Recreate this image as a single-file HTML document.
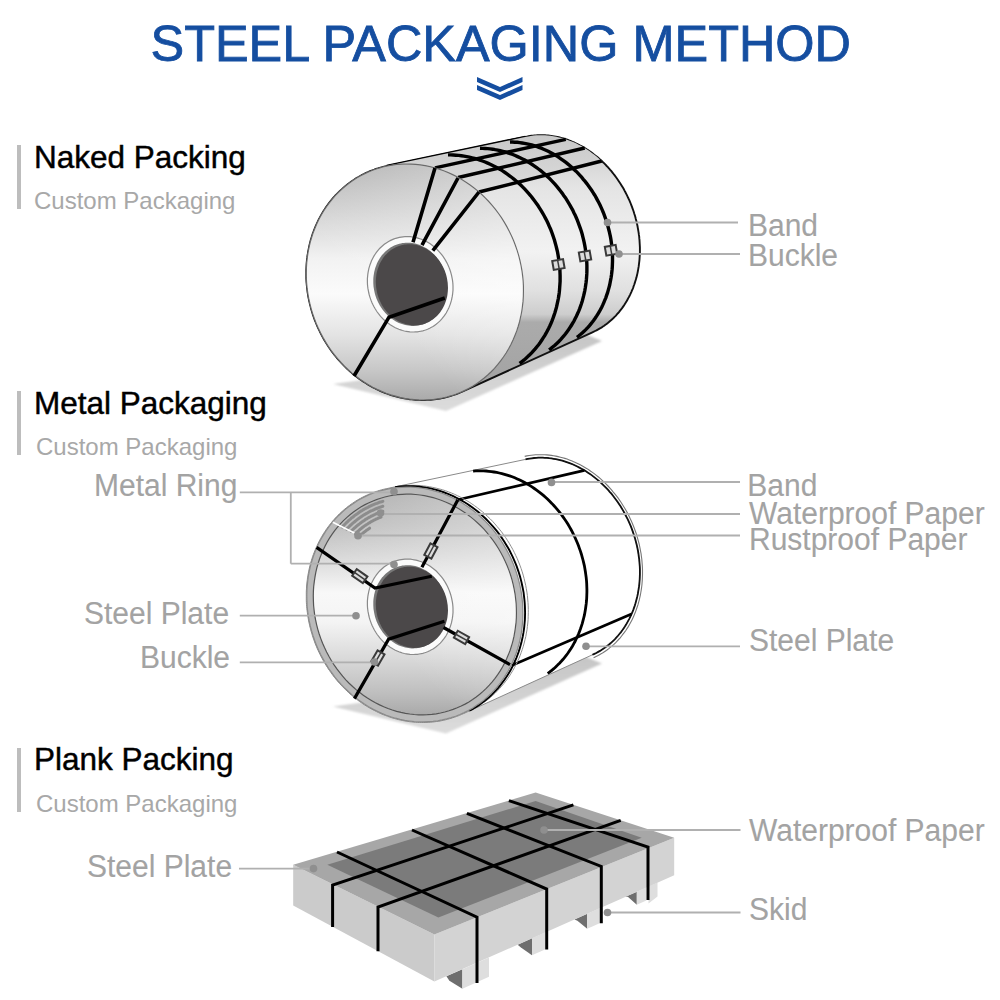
<!DOCTYPE html>
<html><head><meta charset="utf-8">
<style>
html,body{margin:0;padding:0;background:#fff;}
svg{display:block;}
text{font-family:"Liberation Sans",sans-serif;}
.lbl{fill:#a3a3a3;font-size:30px;stroke:#a3a3a3;stroke-width:0.1px;}
.hd{fill:#000;font-size:31.5px;stroke:#000;stroke-width:0.45px;}
.sub{fill:#a8a8a8;font-size:24px;}
.ln{stroke:#b0b0b0;stroke-width:1.8;fill:none;}
.dot{fill:#8f8f8f;}
</style></head>
<body>
<svg width="1000" height="1000" viewBox="0 0 1000 1000">
<defs>
<linearGradient id="face1" gradientUnits="userSpaceOnUse" x1="0" y1="164" x2="0" y2="400">
<stop offset="0" stop-color="#a9a9a9"/><stop offset="0.12" stop-color="#c2c2c2"/><stop offset="0.25" stop-color="#dadada"/><stop offset="0.4" stop-color="#f2f2f2"/><stop offset="0.55" stop-color="#fbfbfb"/><stop offset="0.72" stop-color="#e4e4e4"/><stop offset="0.87" stop-color="#c8c8c8"/><stop offset="1" stop-color="#aaaaaa"/>
</linearGradient>
<linearGradient id="body1" gradientUnits="userSpaceOnUse" x1="0" y1="135" x2="0" y2="395">
<stop offset="0" stop-color="#c8c8c8"/><stop offset="0.2" stop-color="#e4e4e4"/><stop offset="0.45" stop-color="#f2f2f2"/><stop offset="0.6" stop-color="#e0e0e0"/><stop offset="0.69" stop-color="#cdcdcd"/><stop offset="0.72" stop-color="#ababab"/><stop offset="1" stop-color="#a2a2a2"/>
</linearGradient>
<filter id="blur" x="-10%" y="-30%" width="120%" height="160%"><feGaussianBlur stdDeviation="1.3"/></filter>
<linearGradient id="hov" gradientUnits="userSpaceOnUse" x1="400" y1="330" x2="520" y2="220">
<stop offset="0" stop-color="#fff" stop-opacity="0"/><stop offset="1" stop-color="#fff" stop-opacity="0.4"/>
</linearGradient>
<linearGradient id="top1" gradientUnits="userSpaceOnUse" x1="0" y1="135" x2="0" y2="200">
<stop offset="0" stop-color="#c8c8c8"/><stop offset="1" stop-color="#e0e0e0"/>
</linearGradient>
<linearGradient id="shad" gradientUnits="userSpaceOnUse" x1="0" y1="335" x2="0" y2="411">
<stop offset="0" stop-color="#c6c6c6"/><stop offset="1" stop-color="#dcdcdc"/>
</linearGradient>
<linearGradient id="face2" gradientUnits="userSpaceOnUse" x1="0" y1="492" x2="0" y2="716">
<stop offset="0" stop-color="#a0a0a0"/><stop offset="0.15" stop-color="#bababa"/><stop offset="0.35" stop-color="#e4e4e4"/><stop offset="0.45" stop-color="#f8f8f8"/><stop offset="0.58" stop-color="#f4f4f4"/><stop offset="0.75" stop-color="#d8d8d8"/><stop offset="0.9" stop-color="#bebebe"/><stop offset="1" stop-color="#a8a8a8"/>
</linearGradient>
<linearGradient id="shad2" gradientUnits="userSpaceOnUse" x1="0" y1="657" x2="0" y2="733">
<stop offset="0" stop-color="#c6c6c6"/><stop offset="1" stop-color="#dcdcdc"/>
</linearGradient>
<linearGradient id="hov2" gradientUnits="userSpaceOnUse" x1="400" y1="652" x2="520" y2="542">
<stop offset="0" stop-color="#fff" stop-opacity="0"/><stop offset="1" stop-color="#fff" stop-opacity="0.4"/>
</linearGradient></defs>
<path d="M333 384 L446 411 L602 341 L585 334 L420 372 Z" fill="url(#shad)" filter="url(#blur)"/>
<path d="M306.3 273.8 L306.3 271.7 L306.3 269.7 L306.4 267.6 L306.5 265.6 L306.6 263.5 L306.8 261.5 L307 259.5 L307.3 257.4 L307.5 255.4 L307.9 253.4 L308.2 251.4 L308.6 249.4 L309 247.4 L309.4 245.5 L309.9 243.5 L310.4 241.6 L310.9 239.6 L311.5 237.7 L312.1 235.8 L312.7 233.9 L313.4 232 L314.1 230.2 L314.8 228.3 L315.6 226.5 L316.4 224.7 L317.2 222.9 L318 221.1 L318.9 219.3 L319.8 217.6 L320.7 215.9 L321.7 214.2 L322.7 212.5 L323.7 210.8 L324.8 209.2 L325.8 207.6 L326.9 206 L328.1 204.4 L329.2 202.9 L330.4 201.4 L331.6 199.9 L332.8 198.4 L334.1 197 L335.4 195.5 L336.7 194.2 L338 192.8 L339.4 191.4 L340.8 190.1 L342.2 188.9 L343.6 187.6 L345 186.4 L346.5 185.2 L348 184 L349.5 182.9 L351 181.8 L352.6 180.7 L354.1 179.7 L355.7 178.6 L357.3 177.7 L358.9 176.7 L360.6 175.8 L362.2 174.9 L363.9 174.1 L365.6 173.2 L367.3 172.5 L369 171.7 L370.7 171 L372.5 170.3 L374.2 169.7 L376 169 L377.8 168.5 L379.6 167.9 L381.4 167.4 L383.2 166.9 L385 166.5 L386.8 166.1 L525.5 136.9 L527 136.6 L528.5 136.3 L530 136 L531.4 135.8 L532.9 135.6 L534.4 135.5 L535.9 135.4 L537.4 135.3 L539 135.2 L540.5 135.2 L542 135.2 L543.5 135.2 L545.1 135.3 L546.6 135.4 L548.1 135.5 L549.6 135.7 L551.2 135.9 L552.7 136.1 L554.2 136.4 L555.8 136.7 L557.3 137 L558.8 137.3 L560.4 137.7 L561.9 138.1 L563.4 138.5 L564.9 139 L566.5 139.5 L568 140 L569.5 140.6 L571 141.2 L572.5 141.8 L574 142.4 L575.4 143.1 L576.9 143.8 L578.4 144.5 L579.8 145.3 L581.3 146.1 L582.7 146.9 L584.2 147.7 L585.6 148.6 L587 149.5 L588.4 150.4 L589.8 151.4 L591.2 152.3 L592.5 153.3 L593.9 154.4 L595.2 155.4 L596.6 156.5 L597.9 157.6 L599.2 158.7 L600.5 159.9 L601.8 161 L603 162.2 L604.3 163.4 L605.5 164.7 L606.7 166 L607.9 167.2 L609.1 168.5 L610.2 169.9 L611.4 171.2 L612.5 172.6 L613.6 174 L614.7 175.4 L615.7 176.8 L616.8 178.3 L617.8 179.7 L618.8 181.2 L619.8 182.7 L620.8 184.2 L621.7 185.7 L622.7 187.3 L623.6 188.8 L624.4 190.4 L625.3 192 L626.1 193.6 L626.9 195.2 L627.7 196.8 L628.5 198.5 L629.3 200.1 L630 201.8 L630.7 203.5 L631.3 205.2 L632 206.9 L632.6 208.6 L633.2 210.3 L633.8 212 L634.3 213.7 L634.9 215.5 L635.4 217.2 L635.8 218.9 L636.3 220.7 L636.7 222.5 L637.1 224.2 L637.5 226 L637.8 227.8 L638.1 229.5 L638.4 231.3 L638.7 233.1 L638.9 234.9 L639.2 236.6 L639.3 238.4 L639.5 240.2 L639.6 242 L639.7 243.7 L639.8 245.5 L639.9 247.3 L639.9 249 L639.9 250.8 L639.9 252.6 L639.8 254.3 L639.7 256.1 L639.6 257.8 L639.5 259.5 L639.3 261.3 L639.1 263 L638.9 264.7 L638.7 266.4 L638.4 268.1 L638.1 269.8 L637.8 271.5 L637.5 273.1 L637.1 274.8 L636.7 276.4 L636.3 278.1 L635.8 279.7 L635.3 281.3 L634.8 282.9 L634.3 284.5 L633.7 286 L633.2 287.6 L632.6 289.1 L631.9 290.6 L631.3 292.1 L630.6 293.6 L629.9 295.1 L629.2 296.5 L628.4 297.9 L627.7 299.3 L626.9 300.7 L626.1 302.1 L625.2 303.5 L624.4 304.8 L623.5 306.1 L622.6 307.4 L621.7 308.7 L620.7 309.9 L619.7 311.1 L618.8 312.3 L617.7 313.5 L616.7 314.7 L615.7 315.8 L614.6 316.9 L613.5 318 L612.4 319 L611.3 320.1 L610.1 321.1 L609 322 L607.8 323 L606.6 323.9 L605.4 324.8 L604.2 325.7 L602.9 326.5 L601.7 327.4 L600.4 328.2 L599.1 328.9 L597.8 329.6 L596.5 330.4 L595.1 331 L593.8 331.7 L592.4 332.3 L463.3 391.2 L461.6 391.9 L459.8 392.7 L458.1 393.4 L456.3 394 L454.6 394.7 L452.8 395.2 L451 395.8 L449.2 396.3 L447.4 396.8 L445.6 397.3 L443.8 397.7 L441.9 398.1 L440.1 398.5 L438.2 398.8 L436.4 399 L434.5 399.3 L432.6 399.5 L430.8 399.7 L428.9 399.8 L427 399.9 L425.1 400 L423.2 400 L421.3 400 L419.4 399.9 L417.5 399.9 L415.6 399.7 L413.7 399.6 L411.8 399.4 L409.9 399.2 L408 398.9 L406.1 398.6 L404.2 398.3 L402.3 397.9 L400.5 397.5 L398.6 397.1 L396.7 396.6 L394.8 396.1 L393 395.6 L391.1 395 L389.2 394.4 L387.4 393.7 L385.6 393 L383.7 392.3 L381.9 391.6 L380.1 390.8 L378.3 390 L376.5 389.1 L374.8 388.2 L373 387.3 L371.3 386.4 L369.5 385.4 L367.8 384.4 L366.1 383.3 L364.4 382.3 L362.7 381.2 L361.1 380 L359.4 378.9 L357.8 377.7 L356.2 376.4 L354.6 375.2 L353 373.9 L351.5 372.6 L349.9 371.3 L348.4 369.9 L346.9 368.5 L345.5 367.1 L344 365.6 L342.6 364.2 L341.2 362.7 L339.8 361.2 L338.4 359.6 L337.1 358.1 L335.8 356.5 L334.5 354.9 L333.2 353.2 L332 351.6 L330.8 349.9 L329.6 348.2 L328.4 346.5 L327.3 344.7 L326.2 343 L325.1 341.2 L324 339.4 L323 337.6 L322 335.7 L321 333.9 L320.1 332 L319.2 330.2 L318.3 328.3 L317.4 326.4 L316.6 324.4 L315.8 322.5 L315 320.6 L314.3 318.6 L313.6 316.6 L312.9 314.7 L312.3 312.7 L311.7 310.7 L311.1 308.7 L310.6 306.6 L310 304.6 L309.6 302.6 L309.1 300.5 L308.7 298.5 L308.3 296.5 L308 294.4 L307.6 292.4 L307.4 290.3 L307.1 288.2 L306.9 286.2 L306.7 284.1 L306.5 282 L306.4 280 L306.3 277.9 L306.3 275.8 Z" fill="url(#body1)" stroke="#111" stroke-width="1.9"/>
<path d="M386.8 166.1 L525.5 136.9" stroke="#000" stroke-width="2.6" fill="none"/>
<path d="M522.6 137.6 L525.3 136.9 L528.1 136.4 L530.8 135.9 L533.6 135.6 L536.4 135.3 L539.2 135.2 L542 135.2 L544.9 135.3 L547.7 135.5 L550.6 135.8 L553.4 136.2 L556.3 136.8 L559.1 137.4 L562 138.1 L564.8 139 L567.6 139.9 L570.4 140.9 L573.2 142.1 L576 143.3 L578.7 144.7 L581.4 146.1 L584.1 147.7 L586.7 149.3 L589.4 151 L591.9 152.9 L594.4 154.8 L596.9 156.8 L599.4 158.9 L601.7 161 L479 192 L476.2 189.7 L473.4 187.5 L470.6 185.4 L467.7 183.3 L464.7 181.4 L461.7 179.5 L458.7 177.8 L455.6 176.1 L452.5 174.6 L449.3 173.1 L446.1 171.8 L442.9 170.5 L439.7 169.4 L436.4 168.3 L433.1 167.4 L429.8 166.6 L426.5 165.9 L423.1 165.3 L419.8 164.8 L416.5 164.4 L413.1 164.2 L409.8 164 L406.4 164 L403.1 164.1 L399.8 164.3 L396.4 164.6 L393.2 165 L389.9 165.5 L386.6 166.1 Z" fill="url(#top1)"/>
<path d="M448 154.9 L450.7 154.9 L453.3 155 L456 155.2 L458.7 155.4 L461.4 155.7 L464 156.1 L466.7 156.6 L469.4 157.1 L472 157.8 L474.6 158.5 L477.3 159.2 L479.9 160.1 L482.5 161 L485.1 162 L487.7 163.1 L490.2 164.2 L492.7 165.4 L495.2 166.7 L497.7 168 L500.2 169.4 L502.6 170.9 L505 172.5 L507.3 174.1 L509.6 175.8 L511.9 177.5 L514.2 179.3 L516.4 181.2 L518.6 183.1 L520.7 185.1 L522.8 187.1 L524.8 189.2 L526.8 191.4 L528.8 193.6 L530.7 195.8 L532.5 198.1 L534.3 200.5 L536.1 202.9 L537.8 205.3 L539.4 207.8 L541 210.3 L542.5 212.9 L544 215.5 L545.4 218.1 L546.8 220.8 L548.1 223.5 L549.3 226.3 L550.5 229 L551.6 231.8 L552.6 234.6 L553.6 237.5 L554.5 240.3 L555.3 243.2 L556.1 246.1 L556.8 249 L557.5 251.9 L558 254.8 L558.5 257.8 L559 260.7 L559.3 263.7 L559.6 266.6 L559.9 269.6 L560 272.6 L560.1 275.5 L560.1 278.5 L560.1 281.4 L559.9 284.3 L559.7 287.2 L559.5 290.1 L559.2 293 L558.8 295.9 L558.3 298.8 L557.7 301.6 L557.1 304.4 L556.5 307.2 L555.7 309.9 L554.9 312.7 L554 315.4 L553.1 318 L552.1 320.7 L551 323.3 L549.9 325.8 L548.7 328.3 L547.4 330.8 L546.1 333.2 L544.7 335.6 L543.2 337.9 L541.7 340.2 L540.2 342.5 L538.6 344.7 L536.9 346.8 L535.2 348.9 L533.4 350.9 L531.6 352.9 L529.7 354.8 L527.8 356.6 L525.8 358.4 L523.8 360.2 L521.7 361.8 L519.6 363.4" fill="none" stroke="#000" stroke-width="3.4"/>
<path d="M480 148.3 L482.5 148.4 L485.1 148.5 L487.6 148.6 L490.1 148.9 L492.7 149.2 L495.2 149.7 L497.7 150.1 L500.3 150.7 L502.8 151.3 L505.3 152 L507.8 152.8 L510.3 153.6 L512.8 154.5 L515.2 155.5 L517.6 156.6 L520.1 157.7 L522.5 158.9 L524.8 160.1 L527.2 161.5 L529.5 162.9 L531.8 164.3 L534.1 165.8 L536.3 167.4 L538.5 169 L540.7 170.7 L542.9 172.5 L545 174.3 L547 176.2 L549.1 178.1 L551.1 180.1 L553 182.1 L554.9 184.2 L556.8 186.4 L558.6 188.6 L560.3 190.8 L562.1 193.1 L563.7 195.4 L565.4 197.7 L566.9 200.2 L568.4 202.6 L569.9 205.1 L571.3 207.6 L572.7 210.1 L573.9 212.7 L575.2 215.3 L576.4 218 L577.5 220.6 L578.5 223.3 L579.5 226.1 L580.5 228.8 L581.4 231.6 L582.2 234.3 L582.9 237.1 L583.6 239.9 L584.2 242.7 L584.8 245.6 L585.3 248.4 L585.7 251.2 L586.1 254.1 L586.4 256.9 L586.6 259.8 L586.8 262.6 L586.9 265.5 L586.9 268.3 L586.9 271.1 L586.8 273.9 L586.6 276.8 L586.4 279.5 L586.1 282.3 L585.7 285.1 L585.3 287.8 L584.8 290.6 L584.2 293.3 L583.6 295.9 L582.9 298.6 L582.2 301.2 L581.4 303.8 L580.5 306.4 L579.6 308.9 L578.6 311.4 L577.5 313.8 L576.4 316.2 L575.2 318.6 L574 321 L572.7 323.2 L571.3 325.5 L569.9 327.7 L568.5 329.8 L566.9 331.9 L565.4 334 L563.8 336 L562.1 337.9 L560.4 339.8 L558.6 341.7 L556.8 343.4 L554.9 345.2 L553 346.8 L551.1 348.4 L549.1 349.9" fill="none" stroke="#000" stroke-width="3.4"/>
<path d="M510 142 L512.4 142 L514.8 142.2 L517.3 142.3 L519.7 142.6 L522.1 143 L524.5 143.4 L526.9 143.8 L529.3 144.4 L531.7 145 L534.1 145.7 L536.5 146.5 L538.9 147.3 L541.2 148.2 L543.6 149.2 L545.9 150.2 L548.2 151.3 L550.5 152.5 L552.8 153.7 L555 155 L557.3 156.4 L559.5 157.8 L561.6 159.3 L563.8 160.8 L565.9 162.4 L568 164.1 L570 165.8 L572 167.5 L574 169.4 L576 171.2 L577.9 173.2 L579.7 175.1 L581.6 177.2 L583.3 179.3 L585.1 181.4 L586.8 183.6 L588.4 185.8 L590 188 L591.6 190.3 L593.1 192.6 L594.6 195 L596 197.4 L597.3 199.9 L598.6 202.3 L599.9 204.8 L601.1 207.4 L602.2 209.9 L603.3 212.5 L604.3 215.1 L605.3 217.8 L606.2 220.4 L607 223.1 L607.8 225.8 L608.5 228.5 L609.2 231.2 L609.8 233.9 L610.4 236.7 L610.9 239.4 L611.3 242.2 L611.7 244.9 L612 247.7 L612.2 250.4 L612.4 253.2 L612.5 255.9 L612.5 258.6 L612.5 261.4 L612.4 264.1 L612.3 266.8 L612.1 269.5 L611.8 272.2 L611.5 274.9 L611.1 277.5 L610.6 280.1 L610.1 282.8 L609.6 285.3 L608.9 287.9 L608.2 290.4 L607.5 292.9 L606.6 295.4 L605.8 297.8 L604.8 300.2 L603.8 302.6 L602.8 304.9 L601.7 307.2 L600.5 309.5 L599.3 311.7 L598 313.8 L596.7 315.9 L595.3 318 L593.9 320 L592.4 322 L590.9 323.9 L589.3 325.8 L587.7 327.6 L586 329.4 L584.3 331.1 L582.5 332.7 L580.7 334.3 L578.9 335.8 L577 337.3" fill="none" stroke="#000" stroke-width="3.4"/>
<path d="M435 167.9 L565.8 139.3" fill="none" stroke="#000" stroke-width="3.4"/>
<path d="M458.2 177.5 L584.7 148" fill="none" stroke="#000" stroke-width="3.4"/>
<path d="M479 192 L601.7 161" fill="none" stroke="#000" stroke-width="3.4"/>
<path d="M523.4 286.1 L523.4 291.2 L523.3 296.4 L523 301.4 L522.4 306.5 L521.7 311.5 L520.7 316.5 L519.6 321.4 L518.2 326.2 L516.7 330.9 L514.9 335.5 L513 340.1 L510.9 344.5 L508.6 348.8 L506.1 353 L503.4 357 L500.6 360.9 L497.6 364.7 L494.5 368.3 L491.2 371.7 L487.7 375 L484.2 378 L480.4 380.9 L476.6 383.7 L472.7 386.2 L468.6 388.5 L464.4 390.6 L460.2 392.5 L455.8 394.2 L451.4 395.7 L446.9 397 L442.3 398 L437.7 398.8 L433.1 399.5 L428.4 399.8 L423.7 400 L418.9 399.9 L414.2 399.6 L409.5 399.1 L404.7 398.4 L400 397.4 L395.4 396.2 L390.7 394.9 L386.1 393.2 L381.6 391.4 L377.1 389.4 L372.7 387.2 L368.4 384.7 L364.1 382.1 L360 379.3 L356 376.3 L352 373.1 L348.2 369.7 L344.5 366.2 L341 362.5 L337.6 358.7 L334.3 354.7 L331.2 350.5 L328.3 346.3 L325.5 341.9 L322.9 337.4 L320.5 332.8 L318.2 328.1 L316.2 323.4 L314.3 318.5 L312.6 313.6 L311.1 308.6 L309.8 303.5 L308.7 298.4 L307.8 293.3 L307.1 288.2 L306.6 283.1 L306.3 277.9 L306.3 272.8 L306.4 267.6 L306.7 262.6 L307.3 257.5 L308 252.5 L309 247.5 L310.1 242.6 L311.5 237.8 L313 233.1 L314.8 228.5 L316.7 223.9 L318.8 219.5 L321.1 215.2 L323.6 211 L326.3 207 L329.1 203.1 L332.1 199.3 L335.2 195.7 L338.5 192.3 L342 189 L345.5 186 L349.3 183.1 L353.1 180.3 L357 177.8 L361.1 175.5 L365.3 173.4 L369.5 171.5 L373.9 169.8 L378.3 168.3 L382.8 167 L387.4 166 L392 165.2 L396.6 164.5 L401.3 164.2 L406 164 L410.8 164.1 L415.5 164.4 L420.2 164.9 L425 165.6 L429.7 166.6 L434.3 167.8 L439 169.1 L443.6 170.8 L448.1 172.6 L452.6 174.6 L457 176.8 L461.3 179.3 L465.6 181.9 L469.7 184.7 L473.7 187.7 L477.7 190.9 L481.5 194.3 L485.2 197.8 L488.7 201.5 L492.1 205.3 L495.4 209.3 L498.5 213.5 L501.4 217.7 L504.2 222.1 L506.8 226.6 L509.2 231.2 L511.5 235.9 L513.5 240.6 L515.4 245.5 L517.1 250.4 L518.6 255.4 L519.9 260.5 L521 265.6 L521.9 270.7 L522.6 275.8 L523.1 280.9 Z" fill="url(#face1)" stroke="#6a6a6a" stroke-width="1.2"/>
<path d="M522.8 286.1 L522.9 291.2 L522.8 296.3 L522.4 301.4 L521.9 306.4 L521.2 311.4 L520.2 316.3 L519.1 321.2 L517.7 326 L516.2 330.7 L514.4 335.3 L512.5 339.8 L510.4 344.2 L508.1 348.5 L505.6 352.6 L503 356.7 L500.2 360.5 L497.2 364.3 L494.1 367.8 L490.8 371.3 L487.4 374.5 L483.8 377.6 L480.1 380.5 L476.3 383.1 L472.4 385.7 L468.3 388 L464.2 390.1 L459.9 392 L455.6 393.7 L451.2 395.1 L446.7 396.4 L442.2 397.4 L437.6 398.3 L433 398.9 L428.3 399.2 L423.6 399.4 L418.9 399.3 L414.2 399.1 L409.5 398.5 L404.8 397.8 L400.1 396.9 L395.5 395.7 L390.8 394.3 L386.3 392.7 L381.7 390.9 L377.3 388.8 L372.9 386.6 L368.6 384.2 L364.4 381.6 L360.3 378.8 L356.2 375.8 L352.3 372.6 L348.6 369.3 L344.9 365.8 L341.4 362.1 L338 358.3 L334.7 354.3 L331.7 350.2 L328.7 346 L326 341.6 L323.4 337.1 L320.9 332.6 L318.7 327.9 L316.6 323.1 L314.8 318.3 L313.1 313.4 L311.6 308.4 L310.3 303.4 L309.2 298.4 L308.3 293.3 L307.6 288.2 L307.1 283.1 L306.9 277.9 L306.8 272.8 L306.9 267.7 L307.3 262.6 L307.8 257.6 L308.5 252.6 L309.5 247.7 L310.6 242.8 L312 238 L313.5 233.3 L315.3 228.7 L317.2 224.2 L319.3 219.8 L321.6 215.5 L324.1 211.4 L326.7 207.3 L329.5 203.5 L332.5 199.7 L335.6 196.2 L338.9 192.7 L342.3 189.5 L345.9 186.4 L349.6 183.5 L353.4 180.9 L357.3 178.3 L361.4 176 L365.5 173.9 L369.8 172 L374.1 170.3 L378.5 168.9 L383 167.6 L387.5 166.6 L392.1 165.7 L396.7 165.1 L401.4 164.8 L406.1 164.6 L410.8 164.7 L415.5 164.9 L420.2 165.5 L424.9 166.2 L429.6 167.1 L434.2 168.3 L438.9 169.7 L443.4 171.3 L448 173.1 L452.4 175.2 L456.8 177.4 L461.1 179.8 L465.3 182.4 L469.4 185.2 L473.5 188.2 L477.4 191.4 L481.1 194.7 L484.8 198.2 L488.3 201.9 L491.7 205.7 L495 209.7 L498 213.8 L501 218 L503.7 222.4 L506.3 226.9 L508.8 231.4 L511 236.1 L513.1 240.9 L514.9 245.7 L516.6 250.6 L518.1 255.6 L519.4 260.6 L520.5 265.6 L521.4 270.7 L522.1 275.8 L522.6 280.9 Z" fill="url(#hov)"/>
<path d="M453 286 L453 288 L453 290.1 L452.8 292.2 L452.6 294.2 L452.3 296.2 L451.9 298.2 L451.5 300.2 L450.9 302.2 L450.3 304.1 L449.6 305.9 L448.9 307.8 L448 309.6 L447.1 311.3 L446.2 313 L445.1 314.6 L444 316.2 L442.8 317.7 L441.6 319.2 L440.3 320.6 L438.9 321.9 L437.5 323.1 L436.1 324.3 L434.5 325.4 L433 326.4 L431.4 327.3 L429.7 328.2 L428.1 329 L426.3 329.7 L424.6 330.3 L422.8 330.8 L421 331.2 L419.2 331.5 L417.4 331.8 L415.5 331.9 L413.7 332 L411.8 332 L409.9 331.9 L408.1 331.6 L406.2 331.3 L404.4 331 L402.5 330.5 L400.7 329.9 L398.9 329.3 L397.1 328.5 L395.3 327.7 L393.6 326.8 L391.9 325.8 L390.2 324.8 L388.6 323.6 L387 322.4 L385.4 321.1 L383.9 319.8 L382.5 318.3 L381.1 316.8 L379.8 315.3 L378.5 313.7 L377.2 312 L376.1 310.3 L375 308.5 L374 306.7 L373 304.8 L372.1 302.9 L371.3 301 L370.6 299.1 L369.9 297.1 L369.3 295 L368.8 293 L368.4 290.9 L368 288.9 L367.7 286.8 L367.5 284.7 L367.4 282.6 L367.4 280.6 L367.4 278.5 L367.6 276.4 L367.8 274.4 L368.1 272.4 L368.5 270.4 L368.9 268.4 L369.5 266.4 L370.1 264.5 L370.8 262.7 L371.5 260.8 L372.4 259 L373.3 257.3 L374.2 255.6 L375.3 254 L376.4 252.4 L377.6 250.9 L378.8 249.4 L380.1 248 L381.5 246.7 L382.9 245.5 L384.3 244.3 L385.9 243.2 L387.4 242.2 L389 241.3 L390.7 240.4 L392.3 239.6 L394.1 238.9 L395.8 238.3 L397.6 237.8 L399.4 237.4 L401.2 237.1 L403 236.8 L404.9 236.7 L406.7 236.6 L408.6 236.6 L410.5 236.7 L412.3 237 L414.2 237.3 L416 237.6 L417.9 238.1 L419.7 238.7 L421.5 239.3 L423.3 240.1 L425.1 240.9 L426.8 241.8 L428.5 242.8 L430.2 243.8 L431.8 245 L433.4 246.2 L435 247.5 L436.5 248.8 L437.9 250.3 L439.3 251.8 L440.6 253.3 L441.9 254.9 L443.2 256.6 L444.3 258.3 L445.4 260.1 L446.4 261.9 L447.4 263.8 L448.3 265.7 L449.1 267.6 L449.8 269.5 L450.5 271.5 L451.1 273.6 L451.6 275.6 L452 277.7 L452.4 279.7 L452.7 281.8 L452.9 283.9 Z" fill="#fbfbfb" stroke="#8a8a8a" stroke-width="1.2"/>
<path d="M447.1 285.7 L447.1 287.6 L447.1 289.4 L447 291.2 L446.8 292.9 L446.5 294.7 L446.2 296.5 L445.8 298.2 L445.4 299.9 L444.8 301.5 L444.2 303.2 L443.6 304.8 L442.9 306.3 L442.1 307.9 L441.2 309.3 L440.3 310.8 L439.4 312.1 L438.4 313.5 L437.3 314.7 L436.2 315.9 L435 317.1 L433.8 318.2 L432.5 319.2 L431.2 320.1 L429.9 321 L428.5 321.8 L427.1 322.6 L425.6 323.3 L424.1 323.9 L422.6 324.4 L421.1 324.8 L419.5 325.2 L418 325.5 L416.4 325.7 L414.8 325.8 L413.2 325.9 L411.6 325.9 L410 325.8 L408.4 325.6 L406.8 325.3 L405.2 325 L403.6 324.6 L402 324.1 L400.4 323.5 L398.9 322.9 L397.4 322.2 L395.9 321.4 L394.4 320.5 L392.9 319.6 L391.5 318.6 L390.2 317.5 L388.8 316.4 L387.5 315.2 L386.3 314 L385.1 312.7 L383.9 311.3 L382.8 309.9 L381.8 308.5 L380.8 307 L379.8 305.4 L378.9 303.8 L378.1 302.2 L377.3 300.6 L376.6 298.9 L376 297.2 L375.4 295.4 L374.9 293.7 L374.5 291.9 L374.1 290.1 L373.8 288.3 L373.5 286.5 L373.4 284.7 L373.3 282.9 L373.3 281 L373.3 279.2 L373.4 277.4 L373.6 275.7 L373.9 273.9 L374.2 272.1 L374.6 270.4 L375 268.7 L375.6 267.1 L376.2 265.4 L376.8 263.8 L377.5 262.3 L378.3 260.7 L379.2 259.3 L380.1 257.8 L381 256.5 L382 255.1 L383.1 253.9 L384.2 252.7 L385.4 251.5 L386.6 250.4 L387.9 249.4 L389.2 248.5 L390.5 247.6 L391.9 246.8 L393.3 246 L394.8 245.3 L396.3 244.7 L397.8 244.2 L399.3 243.8 L400.9 243.4 L402.4 243.1 L404 242.9 L405.6 242.8 L407.2 242.7 L408.8 242.7 L410.4 242.8 L412 243 L413.6 243.3 L415.2 243.6 L416.8 244 L418.4 244.5 L420 245.1 L421.5 245.7 L423 246.4 L424.5 247.2 L426 248.1 L427.5 249 L428.9 250 L430.2 251.1 L431.6 252.2 L432.9 253.4 L434.1 254.6 L435.3 255.9 L436.5 257.3 L437.6 258.7 L438.6 260.1 L439.6 261.6 L440.6 263.2 L441.5 264.8 L442.3 266.4 L443.1 268 L443.8 269.7 L444.4 271.4 L445 273.2 L445.5 274.9 L445.9 276.7 L446.3 278.5 L446.6 280.3 L446.9 282.1 L447 283.9 Z" fill="#777"/>
<path d="M447.9 286.2 L448 288 L447.9 289.7 L447.8 291.5 L447.6 293.2 L447.4 295 L447.1 296.7 L446.7 298.3 L446.2 300 L445.7 301.6 L445.1 303.2 L444.5 304.8 L443.8 306.3 L443 307.8 L442.2 309.2 L441.3 310.6 L440.4 312 L439.4 313.3 L438.3 314.5 L437.2 315.7 L436.1 316.8 L434.9 317.8 L433.7 318.8 L432.4 319.8 L431.1 320.6 L429.7 321.4 L428.4 322.2 L426.9 322.8 L425.5 323.4 L424 323.9 L422.5 324.4 L421 324.7 L419.5 325 L417.9 325.2 L416.4 325.3 L414.8 325.4 L413.3 325.4 L411.7 325.3 L410.1 325.1 L408.5 324.8 L407 324.5 L405.4 324.1 L403.9 323.6 L402.4 323.1 L400.9 322.4 L399.4 321.7 L397.9 321 L396.5 320.1 L395.1 319.2 L393.7 318.3 L392.3 317.2 L391 316.1 L389.8 315 L388.6 313.8 L387.4 312.5 L386.3 311.2 L385.2 309.8 L384.1 308.4 L383.2 306.9 L382.2 305.4 L381.4 303.9 L380.6 302.3 L379.8 300.7 L379.1 299 L378.5 297.4 L377.9 295.7 L377.4 293.9 L377 292.2 L376.7 290.5 L376.4 288.7 L376.1 286.9 L376 285.2 L375.9 283.4 L375.8 281.6 L375.9 279.9 L376 278.1 L376.2 276.4 L376.4 274.6 L376.7 272.9 L377.1 271.3 L377.6 269.6 L378.1 268 L378.7 266.4 L379.3 264.8 L380 263.3 L380.8 261.8 L381.6 260.4 L382.5 259 L383.4 257.6 L384.4 256.3 L385.5 255.1 L386.6 253.9 L387.7 252.8 L388.9 251.8 L390.1 250.8 L391.4 249.8 L392.7 249 L394.1 248.2 L395.4 247.4 L396.9 246.8 L398.3 246.2 L399.8 245.7 L401.3 245.2 L402.8 244.9 L404.3 244.6 L405.9 244.4 L407.4 244.3 L409 244.2 L410.5 244.2 L412.1 244.3 L413.7 244.5 L415.3 244.8 L416.8 245.1 L418.4 245.5 L419.9 246 L421.4 246.5 L422.9 247.2 L424.4 247.9 L425.9 248.6 L427.3 249.5 L428.7 250.4 L430.1 251.3 L431.5 252.4 L432.8 253.5 L434 254.6 L435.2 255.8 L436.4 257.1 L437.5 258.4 L438.6 259.8 L439.7 261.2 L440.6 262.7 L441.6 264.2 L442.4 265.7 L443.2 267.3 L444 268.9 L444.7 270.6 L445.3 272.2 L445.9 273.9 L446.4 275.7 L446.8 277.4 L447.1 279.1 L447.4 280.9 L447.7 282.7 L447.8 284.4 Z" fill="#4b4849"/>
<path d="M413 242.2 L435 168 M422 245.2 L458 178 M432.8 250.6 L479 192" stroke="#000" stroke-width="3.6" fill="none"/>
<path d="M444.8 298 L389 317.2 L354 376" stroke="#000" stroke-width="3.6" fill="none"/>
<g transform="translate(558.4 264.5) rotate(-10.0)"><rect x="-5.5" y="-4.5" width="11" height="9" fill="#dcdcdc" stroke="#3a3a3a" stroke-width="2"/><line x1="0" y1="-4.5" x2="0" y2="4.5" stroke="#3a3a3a" stroke-width="1.5"/></g>
<g transform="translate(585 256) rotate(-10.0)"><rect x="-5.5" y="-4.5" width="11" height="9" fill="#dcdcdc" stroke="#3a3a3a" stroke-width="2"/><line x1="0" y1="-4.5" x2="0" y2="4.5" stroke="#3a3a3a" stroke-width="1.5"/></g>
<g transform="translate(611 250.3) rotate(-10.0)"><rect x="-5.5" y="-4.5" width="11" height="9" fill="#dcdcdc" stroke="#3a3a3a" stroke-width="2"/><line x1="0" y1="-4.5" x2="0" y2="4.5" stroke="#3a3a3a" stroke-width="1.5"/></g>
<path d="M333 706.5 L446 733.5 L602 663.5 L585 656.5 L420 694.5 Z" fill="url(#shad2)" filter="url(#blur)"/>
<path d="M306.3 596.3 L306.3 594.2 L306.3 592.2 L306.4 590.1 L306.5 588.1 L306.6 586 L306.8 584 L307 582 L307.3 579.9 L307.5 577.9 L307.9 575.9 L308.2 573.9 L308.6 571.9 L309 569.9 L309.4 568 L309.9 566 L310.4 564.1 L310.9 562.1 L311.5 560.2 L312.1 558.3 L312.7 556.4 L313.4 554.5 L314.1 552.7 L314.8 550.8 L315.6 549 L316.4 547.2 L317.2 545.4 L318 543.6 L318.9 541.8 L319.8 540.1 L320.7 538.4 L321.7 536.7 L322.7 535 L323.7 533.3 L324.8 531.7 L325.8 530.1 L326.9 528.5 L328.1 526.9 L329.2 525.4 L330.4 523.9 L331.6 522.4 L332.8 520.9 L334.1 519.5 L335.4 518 L336.7 516.7 L338 515.3 L339.4 513.9 L340.8 512.6 L342.2 511.4 L343.6 510.1 L345 508.9 L346.5 507.7 L348 506.5 L349.5 505.4 L351 504.3 L352.6 503.2 L354.1 502.2 L355.7 501.1 L357.3 500.2 L358.9 499.2 L360.6 498.3 L362.2 497.4 L363.9 496.6 L365.6 495.7 L367.3 495 L369 494.2 L370.7 493.5 L372.5 492.8 L374.2 492.2 L376 491.5 L377.8 491 L379.6 490.4 L381.4 489.9 L383.2 489.4 L385 489 L386.8 488.6 L525.5 459.4 L527 459.1 L528.5 458.8 L530 458.5 L531.4 458.3 L532.9 458.1 L534.4 458 L535.9 457.9 L537.4 457.8 L539 457.7 L540.5 457.7 L542 457.7 L543.5 457.7 L545.1 457.8 L546.6 457.9 L548.1 458 L549.6 458.2 L551.2 458.4 L552.7 458.6 L554.2 458.9 L555.8 459.2 L557.3 459.5 L558.8 459.8 L560.4 460.2 L561.9 460.6 L563.4 461 L564.9 461.5 L566.5 462 L568 462.5 L569.5 463.1 L571 463.7 L572.5 464.3 L574 464.9 L575.4 465.6 L576.9 466.3 L578.4 467 L579.8 467.8 L581.3 468.6 L582.7 469.4 L584.2 470.2 L585.6 471.1 L587 472 L588.4 472.9 L589.8 473.9 L591.2 474.8 L592.5 475.8 L593.9 476.9 L595.2 477.9 L596.6 479 L597.9 480.1 L599.2 481.2 L600.5 482.4 L601.8 483.5 L603 484.7 L604.3 485.9 L605.5 487.2 L606.7 488.5 L607.9 489.7 L609.1 491 L610.2 492.4 L611.4 493.7 L612.5 495.1 L613.6 496.5 L614.7 497.9 L615.7 499.3 L616.8 500.8 L617.8 502.2 L618.8 503.7 L619.8 505.2 L620.8 506.7 L621.7 508.2 L622.7 509.8 L623.6 511.3 L624.4 512.9 L625.3 514.5 L626.1 516.1 L626.9 517.7 L627.7 519.3 L628.5 521 L629.3 522.6 L630 524.3 L630.7 526 L631.3 527.7 L632 529.4 L632.6 531.1 L633.2 532.8 L633.8 534.5 L634.3 536.2 L634.9 538 L635.4 539.7 L635.8 541.4 L636.3 543.2 L636.7 545 L637.1 546.7 L637.5 548.5 L637.8 550.3 L638.1 552 L638.4 553.8 L638.7 555.6 L638.9 557.4 L639.2 559.1 L639.3 560.9 L639.5 562.7 L639.6 564.5 L639.7 566.2 L639.8 568 L639.9 569.8 L639.9 571.5 L639.9 573.3 L639.9 575.1 L639.8 576.8 L639.7 578.6 L639.6 580.3 L639.5 582 L639.3 583.8 L639.1 585.5 L638.9 587.2 L638.7 588.9 L638.4 590.6 L638.1 592.3 L637.8 594 L637.5 595.6 L637.1 597.3 L636.7 598.9 L636.3 600.6 L635.8 602.2 L635.3 603.8 L634.8 605.4 L634.3 607 L633.7 608.5 L633.2 610.1 L632.6 611.6 L631.9 613.1 L631.3 614.6 L630.6 616.1 L629.9 617.6 L629.2 619 L628.4 620.4 L627.7 621.8 L626.9 623.2 L626.1 624.6 L625.2 626 L624.4 627.3 L623.5 628.6 L622.6 629.9 L621.7 631.2 L620.7 632.4 L619.7 633.6 L618.8 634.8 L617.7 636 L616.7 637.2 L615.7 638.3 L614.6 639.4 L613.5 640.5 L612.4 641.5 L611.3 642.6 L610.1 643.6 L609 644.5 L607.8 645.5 L606.6 646.4 L605.4 647.3 L604.2 648.2 L602.9 649 L601.7 649.9 L600.4 650.7 L599.1 651.4 L597.8 652.1 L596.5 652.9 L595.1 653.5 L593.8 654.2 L592.4 654.8 L463.3 713.7 L461.6 714.4 L459.8 715.2 L458.1 715.9 L456.3 716.5 L454.6 717.2 L452.8 717.7 L451 718.3 L449.2 718.8 L447.4 719.3 L445.6 719.8 L443.8 720.2 L441.9 720.6 L440.1 721 L438.2 721.3 L436.4 721.5 L434.5 721.8 L432.6 722 L430.8 722.2 L428.9 722.3 L427 722.4 L425.1 722.5 L423.2 722.5 L421.3 722.5 L419.4 722.4 L417.5 722.4 L415.6 722.2 L413.7 722.1 L411.8 721.9 L409.9 721.7 L408 721.4 L406.1 721.1 L404.2 720.8 L402.3 720.4 L400.5 720 L398.6 719.6 L396.7 719.1 L394.8 718.6 L393 718.1 L391.1 717.5 L389.2 716.9 L387.4 716.2 L385.6 715.5 L383.7 714.8 L381.9 714.1 L380.1 713.3 L378.3 712.5 L376.5 711.6 L374.8 710.7 L373 709.8 L371.3 708.9 L369.5 707.9 L367.8 706.9 L366.1 705.8 L364.4 704.8 L362.7 703.7 L361.1 702.5 L359.4 701.4 L357.8 700.2 L356.2 698.9 L354.6 697.7 L353 696.4 L351.5 695.1 L349.9 693.8 L348.4 692.4 L346.9 691 L345.5 689.6 L344 688.1 L342.6 686.7 L341.2 685.2 L339.8 683.7 L338.4 682.1 L337.1 680.6 L335.8 679 L334.5 677.4 L333.2 675.7 L332 674.1 L330.8 672.4 L329.6 670.7 L328.4 669 L327.3 667.2 L326.2 665.5 L325.1 663.7 L324 661.9 L323 660.1 L322 658.2 L321 656.4 L320.1 654.5 L319.2 652.7 L318.3 650.8 L317.4 648.9 L316.6 646.9 L315.8 645 L315 643.1 L314.3 641.1 L313.6 639.1 L312.9 637.2 L312.3 635.2 L311.7 633.2 L311.1 631.2 L310.6 629.1 L310 627.1 L309.6 625.1 L309.1 623 L308.7 621 L308.3 619 L308 616.9 L307.6 614.9 L307.4 612.8 L307.1 610.7 L306.9 608.7 L306.7 606.6 L306.5 604.5 L306.4 602.5 L306.3 600.4 L306.3 598.3 Z" fill="#fff" stroke="#8a8a8a" stroke-width="1"/>
<path d="M524.7 456.4 L526.9 455.9 L529.1 455.5 L531.3 455.2 L533.5 455 L535.7 454.8 L537.9 454.7 L540.1 454.7 L542.4 454.7 L544.6 454.8 L546.9 454.9 L549.1 455.1 L551.4 455.4 L553.6 455.7 L555.9 456.1 L558.1 456.6 L560.4 457.2 L562.6 457.8 L564.9 458.4 L567.1 459.1 L569.3 459.9 L571.5 460.8 L573.7 461.7 L575.9 462.7 L578.1 463.7 L580.2 464.8 L582.4 466 L584.5 467.2 L586.6 468.4 L588.7 469.8 L590.7 471.2 L592.8 472.6 L594.8 474.1 L596.7 475.6 L598.7 477.2 L600.6 478.9 L602.5 480.6 L604.4 482.3 L606.2 484.1 L608 486 L609.7 487.8 L611.5 489.8 L613.1 491.8 L614.8 493.8 L616.4 495.8 L618 497.9 L619.5 500.1 L621 502.2 L622.4 504.5 L623.8 506.7 L625.2 509 L626.5 511.3 L627.7 513.6 L629 516 L630.1 518.4 L631.2 520.8 L632.3 523.3 L633.3 525.7 L634.3 528.2 L635.2 530.7 L636.1 533.2 L636.9 535.8 L637.6 538.3 L638.3 540.9 L639 543.5 L639.6 546.1 L640.1 548.7 L640.6 551.3 L641.1 553.9 L641.4 556.5 L641.8 559.1 L642 561.7 L642.2 564.4 L642.4 567 L642.5 569.6 L642.5 572.2 L642.5 574.8 L642.4 577.3 L642.3 579.9 L642.1 582.5 L641.9 585 L641.6 587.5 L641.2 590.1 L640.8 592.5 L640.4 595 L639.8 597.5 L639.3 599.9 L638.6 602.3 L638 604.7 L637.2 607 L636.4 609.3 L635.6 611.6 L634.7 613.8 L633.8 616.1 L632.8 618.2 L631.7 620.4 L630.6 622.5 L629.5 624.5 L628.3 626.6 L627 628.6 L625.8 630.5 L624.4 632.4 L623 634.2 L621.6 636 L620.2 637.8 L618.6 639.5 L617.1 641.1 L615.5 642.8 L613.9 644.3 L612.2 645.8 L610.5 647.2 L608.8 648.6 L607 650 L605.2 651.2 L603.3 652.5 L601.5 653.6 L599.5 654.7 L597.6 655.8 L595.6 656.7 L593.6 657.7" fill="none" stroke="#777" stroke-width="1.1"/>
<path d="M525.5 459.4 L527.6 458.9 L529.7 458.6 L531.9 458.3 L534 458 L536.2 457.9 L538.3 457.7 L540.5 457.7 L542.7 457.7 L544.8 457.8 L547 457.9 L549.2 458.2 L551.4 458.4 L553.6 458.8 L555.8 459.2 L558 459.6 L560.2 460.1 L562.3 460.7 L564.5 461.4 L566.7 462.1 L568.8 462.8 L571 463.7 L573.1 464.5 L575.2 465.5 L577.3 466.5 L579.4 467.6 L581.5 468.7 L583.6 469.9 L585.6 471.1 L587.6 472.4 L589.6 473.7 L591.6 475.1 L593.5 476.6 L595.4 478.1 L597.3 479.6 L599.2 481.2 L601 482.9 L602.8 484.6 L604.6 486.3 L606.4 488.1 L608.1 489.9 L609.7 491.8 L611.4 493.7 L613 495.7 L614.5 497.7 L616 499.7 L617.5 501.8 L619 503.9 L620.4 506.1 L621.7 508.2 L623 510.4 L624.3 512.7 L625.5 515 L626.7 517.3 L627.9 519.6 L628.9 521.9 L630 524.3 L631 526.7 L631.9 529.1 L632.8 531.6 L633.6 534 L634.4 536.5 L635.2 539 L635.8 541.4 L636.5 544 L637.1 546.5 L637.6 549 L638.1 551.5 L638.5 554.1 L638.8 556.6 L639.2 559.1 L639.4 561.7 L639.6 564.2 L639.8 566.7 L639.9 569.3 L639.9 571.8 L639.9 574.3 L639.8 576.8 L639.7 579.3 L639.5 581.8 L639.3 584.3 L639 586.7 L638.6 589.2 L638.2 591.6 L637.8 594 L637.3 596.4 L636.7 598.7 L636.1 601 L635.5 603.3 L634.8 605.6 L634 607.9 L633.2 610.1 L632.3 612.3 L631.4 614.4 L630.4 616.5 L629.4 618.6 L628.3 620.6 L627.2 622.6 L626.1 624.6 L624.9 626.5 L623.6 628.4 L622.3 630.3 L621 632.1 L619.6 633.8 L618.2 635.5 L616.7 637.2 L615.2 638.8 L613.7 640.3 L612.1 641.8 L610.5 643.3 L608.8 644.7 L607.1 646 L605.4 647.3 L603.6 648.6 L601.8 649.7 L600 650.9 L598.2 651.9 L596.3 653 L594.4 653.9 L592.4 654.8" fill="none" stroke="#111" stroke-width="1.8"/>
<path d="M473.1 471.1 L475.7 470.9 L478.3 470.8 L480.9 470.8 L483.5 470.9 L486.2 471 L488.8 471.3 L491.4 471.6 L494 472 L496.7 472.4 L499.3 473 L501.9 473.6 L504.5 474.3 L507.1 475.1 L509.6 475.9 L512.2 476.8 L514.8 477.8 L517.3 478.9 L519.8 480.1 L522.3 481.3 L524.7 482.6 L527.2 484 L529.6 485.4 L532 486.9 L534.3 488.5 L536.6 490.1 L538.9 491.8 L541.2 493.6 L543.4 495.4 L545.5 497.3 L547.7 499.3 L549.7 501.3 L551.8 503.4 L553.8 505.5 L555.7 507.7 L557.6 509.9 L559.5 512.2 L561.3 514.5 L563 516.9 L564.7 519.3 L566.4 521.8 L568 524.3 L569.5 526.9 L571 529.5 L572.4 532.1 L573.7 534.8 L575 537.5 L576.2 540.2 L577.4 543 L578.5 545.7 L579.5 548.6 L580.5 551.4 L581.4 554.2 L582.2 557.1 L583 560 L583.7 562.9 L584.4 565.8 L584.9 568.7 L585.4 571.7 L585.8 574.6 L586.2 577.6 L586.5 580.5 L586.7 583.5 L586.8 586.4 L586.9 589.3 L586.9 592.3 L586.8 595.2 L586.7 598.1 L586.5 601 L586.2 603.9 L585.8 606.7 L585.4 609.6 L584.9 612.4 L584.4 615.2 L583.7 618 L583 620.7 L582.3 623.4 L581.4 626.1 L580.5 628.8 L579.5 631.4 L578.5 634 L577.4 636.5 L576.2 639 L575 641.5 L573.7 643.9 L572.4 646.2 L571 648.5 L569.5 650.8 L568 653 L566.4 655.2 L564.7 657.3 L563.1 659.3 L561.3 661.3 L559.5 663.2 L557.6 665.1 L555.7 666.9 L553.8 668.7 L551.8 670.3 L549.8 671.9 L547.7 673.5" fill="none" stroke="#000" stroke-width="2.8"/>
<path d="M457.9 499.8 L584.4 470.4" fill="none" stroke="#000" stroke-width="2.7"/>
<path d="M511.6 665.6 L631.5 614" fill="none" stroke="#000" stroke-width="2.7"/>
<path d="M395.2 486.9 L398.3 486.4 L401.4 485.9 L404.5 485.6 L407.6 485.4 L410.8 485.3 L413.9 485.3 L417.1 485.4 L420.2 485.6 L423.4 485.9 L426.6 486.3 L429.7 486.8 L432.9 487.4 L436 488.1 L439.1 488.9 L442.3 489.7 L445.3 490.7 L448.4 491.8 L451.5 493 L454.5 494.3 L457.5 495.7 L460.4 497.1 L463.4 498.7 L466.2 500.3 L469.1 502 L471.9 503.9 L474.7 505.8 L477.4 507.8 L480 509.8 L482.7 512 L485.2 514.2 L487.7 516.5 L490.2 518.9 L492.6 521.3 L494.9 523.9 L497.1 526.5 L499.3 529.1 L501.5 531.8 L503.5 534.6 L505.5 537.4 L507.4 540.3 L509.3 543.3 L511 546.3 L512.7 549.3 L514.3 552.4 L515.8 555.6 L517.3 558.7 L518.6 562 L519.9 565.2 L521.1 568.5 L522.2 571.8 L523.2 575.1 L524.1 578.5 L524.9 581.9 L525.7 585.3 L526.3 588.7 L526.9 592.1 L527.4 595.6 L527.7 599 L528 602.5 L528.2 605.9 L528.3 609.4 L528.3 612.8 L528.2 616.2 L528.1 619.6 L527.8 623 L527.4 626.4 L527 629.8 L526.4 633.1 L525.8 636.5 L525 639.7 L524.2 643 L523.3 646.2 L522.3 649.4 L521.2 652.5 L520.1 655.6 L518.8 658.7 L517.4 661.7 L516 664.6 L514.5 667.5 L512.9 670.4 L511.2 673.2 L509.5 675.9 L507.7 678.5 L505.8 681.1 L503.8 683.7 L501.7 686.1 L499.6 688.5 L497.4 690.8 L495.2 693.1 L492.9 695.2 L490.5 697.3 L488.1 699.3 L485.6 701.2 L483 703 L480.4 704.8 L477.7 706.4 L475 708 L472.3 709.4 L469.5 710.8" fill="none" stroke="#8f8f8f" stroke-width="1.0"/>
<path d="M395.1 487.1 L398.2 486.7 L401.2 486.4 L404.3 486.2 L407.4 486.1 L410.5 486.1 L413.6 486.2 L416.7 486.4 L419.8 486.7 L422.9 487.1 L426 487.6 L429.1 488.1 L432.2 488.8 L435.2 489.6 L438.3 490.5 L441.3 491.4 L444.3 492.5 L447.3 493.6 L450.3 494.8 L453.2 496.1 L456.1 497.6 L459 499 L461.8 500.6 L464.6 502.3 L467.4 504 L470.1 505.9 L472.8 507.8 L475.4 509.8 L478 511.8 L480.5 514 L483 516.2 L485.5 518.5 L487.8 520.9 L490.1 523.3 L492.4 525.8 L494.6 528.3 L496.7 530.9 L498.8 533.6 L500.8 536.4 L502.7 539.2 L504.5 542 L506.3 544.9 L508 547.8 L509.7 550.8 L511.2 553.9 L512.7 556.9 L514.1 560.1 L515.4 563.2 L516.7 566.4 L517.8 569.6 L518.9 572.8 L519.9 576.1 L520.8 579.4 L521.6 582.7 L522.3 586 L523 589.4 L523.6 592.7 L524 596.1 L524.4 599.5 L524.7 602.8 L524.9 606.2 L525 609.6 L525.1 612.9 L525 616.3 L524.9 619.7 L524.6 623 L524.3 626.3 L523.9 629.6 L523.4 632.9 L522.8 636.2 L522.1 639.4 L521.4 642.6 L520.5 645.8 L519.6 648.9 L518.6 652 L517.5 655 L516.3 658.1 L515 661 L513.7 664 L512.3 666.8 L510.8 669.7 L509.2 672.4 L507.5 675.2 L505.8 677.8 L504 680.4 L502.1 682.9 L500.2 685.4 L498.2 687.8 L496.1 690.1 L493.9 692.4 L491.7 694.6 L489.5 696.7 L487.1 698.7 L484.8 700.7 L482.3 702.6 L479.8 704.4 L477.3 706.1 L474.7 707.7 L472 709.3 L469.3 710.7" fill="none" stroke="#000" stroke-width="1.9"/>
<path d="M522.8 608.6 L522.9 613.7 L522.8 618.8 L522.4 623.9 L521.9 628.9 L521.2 633.9 L520.2 638.8 L519.1 643.7 L517.7 648.5 L516.2 653.2 L514.4 657.8 L512.5 662.3 L510.4 666.7 L508.1 671 L505.6 675.1 L503 679.2 L500.2 683 L497.2 686.8 L494.1 690.3 L490.8 693.8 L487.4 697 L483.8 700.1 L480.1 703 L476.3 705.6 L472.4 708.2 L468.3 710.5 L464.2 712.6 L459.9 714.5 L455.6 716.2 L451.2 717.6 L446.7 718.9 L442.2 719.9 L437.6 720.8 L433 721.4 L428.3 721.7 L423.6 721.9 L418.9 721.8 L414.2 721.6 L409.5 721 L404.8 720.3 L400.1 719.4 L395.5 718.2 L390.8 716.8 L386.3 715.2 L381.7 713.4 L377.3 711.3 L372.9 709.1 L368.6 706.7 L364.4 704.1 L360.3 701.3 L356.2 698.3 L352.3 695.1 L348.6 691.8 L344.9 688.3 L341.4 684.6 L338 680.8 L334.7 676.8 L331.7 672.7 L328.7 668.5 L326 664.1 L323.4 659.6 L320.9 655.1 L318.7 650.4 L316.6 645.6 L314.8 640.8 L313.1 635.9 L311.6 630.9 L310.3 625.9 L309.2 620.9 L308.3 615.8 L307.6 610.7 L307.1 605.6 L306.9 600.4 L306.8 595.3 L306.9 590.2 L307.3 585.1 L307.8 580.1 L308.5 575.1 L309.5 570.2 L310.6 565.3 L312 560.5 L313.5 555.8 L315.3 551.2 L317.2 546.7 L319.3 542.3 L321.6 538 L324.1 533.9 L326.7 529.8 L329.5 526 L332.5 522.2 L335.6 518.7 L338.9 515.2 L342.3 512 L345.9 508.9 L349.6 506 L353.4 503.4 L357.3 500.8 L361.4 498.5 L365.5 496.4 L369.8 494.5 L374.1 492.8 L378.5 491.4 L383 490.1 L387.5 489.1 L392.1 488.2 L396.7 487.6 L401.4 487.3 L406.1 487.1 L410.8 487.2 L415.5 487.4 L420.2 488 L424.9 488.7 L429.6 489.6 L434.2 490.8 L438.9 492.2 L443.4 493.8 L448 495.6 L452.4 497.7 L456.8 499.9 L461.1 502.3 L465.3 504.9 L469.4 507.7 L473.5 510.7 L477.4 513.9 L481.1 517.2 L484.8 520.7 L488.3 524.4 L491.7 528.2 L495 532.2 L498 536.3 L501 540.5 L503.7 544.9 L506.3 549.4 L508.8 553.9 L511 558.6 L513.1 563.4 L514.9 568.2 L516.6 573.1 L518.1 578.1 L519.4 583.1 L520.5 588.1 L521.4 593.2 L522.1 598.3 L522.6 603.4 Z" fill="#bababa" stroke="#8a8a8a" stroke-width="1.2"/>
<path d="M516.3 608.3 L516.4 613.1 L516.3 617.9 L516 622.7 L515.4 627.4 L514.7 632.1 L513.9 636.7 L512.8 641.3 L511.5 645.8 L510.1 650.2 L508.4 654.6 L506.6 658.8 L504.6 662.9 L502.5 667 L500.2 670.9 L497.7 674.7 L495 678.3 L492.2 681.8 L489.3 685.2 L486.2 688.4 L483 691.4 L479.7 694.3 L476.2 697 L472.6 699.6 L468.9 701.9 L465.1 704.1 L461.2 706 L457.2 707.8 L453.1 709.4 L449 710.8 L444.8 712 L440.5 713 L436.2 713.8 L431.9 714.3 L427.5 714.7 L423.1 714.8 L418.7 714.8 L414.2 714.5 L409.8 714 L405.4 713.3 L401 712.4 L396.6 711.3 L392.3 710 L388 708.5 L383.7 706.8 L379.6 704.9 L375.4 702.8 L371.4 700.5 L367.4 698.1 L363.6 695.4 L359.8 692.6 L356.1 689.6 L352.6 686.5 L349.1 683.2 L345.8 679.8 L342.6 676.2 L339.6 672.4 L336.7 668.6 L333.9 664.6 L331.3 660.5 L328.9 656.3 L326.6 652 L324.5 647.6 L322.6 643.2 L320.8 638.6 L319.2 634 L317.8 629.3 L316.6 624.6 L315.6 619.9 L314.7 615.1 L314.1 610.3 L313.6 605.5 L313.4 600.7 L313.3 595.9 L313.4 591.1 L313.7 586.3 L314.3 581.6 L315 576.9 L315.8 572.3 L316.9 567.7 L318.2 563.2 L319.6 558.8 L321.3 554.4 L323.1 550.2 L325.1 546.1 L327.2 542 L329.5 538.1 L332 534.3 L334.7 530.7 L337.5 527.2 L340.4 523.8 L343.5 520.6 L346.7 517.6 L350 514.7 L353.5 512 L357.1 509.4 L360.8 507.1 L364.6 504.9 L368.5 503 L372.5 501.2 L376.6 499.6 L380.7 498.2 L384.9 497 L389.2 496 L393.5 495.2 L397.8 494.7 L402.2 494.3 L406.6 494.2 L411 494.2 L415.5 494.5 L419.9 495 L424.3 495.7 L428.7 496.6 L433.1 497.7 L437.4 499 L441.7 500.5 L446 502.2 L450.1 504.1 L454.3 506.2 L458.3 508.5 L462.3 510.9 L466.1 513.6 L469.9 516.4 L473.6 519.4 L477.1 522.5 L480.6 525.8 L483.9 529.2 L487.1 532.8 L490.1 536.6 L493 540.4 L495.8 544.4 L498.4 548.5 L500.8 552.7 L503.1 557 L505.2 561.4 L507.1 565.8 L508.9 570.4 L510.5 575 L511.9 579.7 L513.1 584.4 L514.1 589.1 L515 593.9 L515.6 598.7 L516.1 603.5 Z" fill="url(#face2)" stroke="#555" stroke-width="1.2"/>
<path d="M515.8 608.3 L515.8 613.1 L515.7 617.8 L515.4 622.6 L514.9 627.3 L514.2 632 L513.3 636.6 L512.2 641.1 L511 645.6 L509.5 650 L507.9 654.3 L506.1 658.5 L504.2 662.6 L502 666.6 L499.7 670.5 L497.2 674.3 L494.6 677.9 L491.8 681.4 L488.9 684.7 L485.8 687.9 L482.6 691 L479.3 693.8 L475.9 696.5 L472.3 699 L468.6 701.4 L464.8 703.5 L461 705.5 L457 707.3 L452.9 708.9 L448.8 710.2 L444.6 711.4 L440.4 712.4 L436.1 713.2 L431.8 713.7 L427.4 714.1 L423.1 714.2 L418.7 714.2 L414.2 713.9 L409.8 713.4 L405.4 712.7 L401.1 711.8 L396.7 710.8 L392.4 709.5 L388.1 708 L383.9 706.3 L379.7 704.4 L375.6 702.3 L371.6 700 L367.7 697.6 L363.8 695 L360.1 692.2 L356.4 689.2 L352.9 686.1 L349.5 682.8 L346.2 679.4 L343 675.8 L340 672.1 L337.1 668.2 L334.4 664.3 L331.8 660.2 L329.3 656 L327.1 651.8 L325 647.4 L323.1 643 L321.3 638.4 L319.7 633.9 L318.3 629.2 L317.1 624.5 L316.1 619.8 L315.3 615 L314.6 610.3 L314.2 605.5 L313.9 600.7 L313.9 595.9 L314 591.2 L314.3 586.4 L314.8 581.7 L315.5 577 L316.4 572.4 L317.5 567.9 L318.7 563.4 L320.2 559 L321.8 554.7 L323.6 550.5 L325.5 546.4 L327.7 542.4 L330 538.5 L332.5 534.7 L335.1 531.1 L337.9 527.6 L340.8 524.3 L343.9 521.1 L347.1 518 L350.4 515.2 L353.8 512.5 L357.4 510 L361.1 507.6 L364.9 505.5 L368.7 503.5 L372.7 501.7 L376.8 500.1 L380.9 498.8 L385.1 497.6 L389.3 496.6 L393.6 495.8 L397.9 495.3 L402.3 494.9 L406.6 494.8 L411 494.8 L415.5 495.1 L419.9 495.6 L424.3 496.3 L428.6 497.2 L433 498.2 L437.3 499.5 L441.6 501 L445.8 502.7 L450 504.6 L454.1 506.7 L458.1 509 L462 511.4 L465.9 514 L469.6 516.8 L473.3 519.8 L476.8 522.9 L480.2 526.2 L483.5 529.6 L486.7 533.2 L489.7 536.9 L492.6 540.8 L495.3 544.7 L497.9 548.8 L500.4 553 L502.6 557.2 L504.7 561.6 L506.6 566 L508.4 570.6 L510 575.1 L511.4 579.8 L512.6 584.5 L513.6 589.2 L514.4 594 L515.1 598.7 L515.5 603.5 Z" fill="url(#hov2)"/>
<path d="M342.3 527 L343.1 526 L344 525.1 L344.9 524.2 L345.8 523.3 L346.7 522.4 L347.6 521.6 L348.5 520.7 L349.4 519.9 L350.4 519.1 L351.3 518.2 L352.3 517.4 L353.3 516.7 L354.2 515.9 L355.2 515.1 L356.2 514.4 L357.3 513.7 L358.3 513 L359.3 512.3 L360.3 511.6 L361.4 510.9 L362.5 510.3 L363.5 509.6 L364.6 509 L365.7 508.4 L366.8 507.8 L367.9 507.3 L369 506.7 L370.1 506.2 L371.2 505.6 L372.3 505.1 L373.5 504.6 L374.6 504.2 L375.8 503.7 L376.9 503.3 L378.1 502.8 L379.2 502.4 L380.4 502 L381.6 501.7 L382.8 501.3" fill="none" stroke="#8c8c8c" stroke-width="3" stroke-linecap="round"/>
<path d="M346.7 529.1 L347.5 528.3 L348.3 527.5 L349.1 526.7 L349.9 525.9 L350.7 525.1 L351.5 524.4 L352.3 523.6 L353.2 522.9 L354 522.2 L354.9 521.5 L355.7 520.8 L356.6 520.1 L357.5 519.4 L358.4 518.7 L359.3 518.1 L360.2 517.4 L361.1 516.8 L362 516.2 L362.9 515.6 L363.8 515 L364.8 514.4 L365.7 513.9 L366.7 513.3 L367.7 512.8 L368.6 512.2 L369.6 511.7 L370.6 511.2 L371.6 510.7 L372.6 510.3 L373.6 509.8 L374.6 509.4 L375.6 508.9 L376.6 508.5 L377.6 508.1 L378.6 507.7 L379.7 507.3 L380.7 507 L381.8 506.6 L382.8 506.3" fill="none" stroke="#8c8c8c" stroke-width="3" stroke-linecap="round"/>
<path d="M351 531.3 L351.7 530.6 L352.4 530 L353.1 529.3 L353.8 528.6 L354.6 527.9 L355.3 527.3 L356 526.6 L356.8 526 L357.5 525.4 L358.3 524.8 L359.1 524.1 L359.8 523.6 L360.6 523 L361.4 522.4 L362.2 521.8 L363 521.3 L363.8 520.7 L364.6 520.2 L365.4 519.6 L366.2 519.1 L367.1 518.6 L367.9 518.1 L368.7 517.6 L369.6 517.2 L370.4 516.7 L371.3 516.2 L372.1 515.8 L373 515.4 L373.9 514.9 L374.8 514.5 L375.6 514.1 L376.5 513.7 L377.4 513.3 L378.3 513 L379.2 512.6 L380.1 512.3 L381 511.9 L381.9 511.6 L382.8 511.3" fill="none" stroke="#8c8c8c" stroke-width="3" stroke-linecap="round"/>
<path d="M355.2 533.8 L355.7 533.3 L356.3 532.7 L356.9 532.2 L357.5 531.6 L358.1 531.1 L358.7 530.6 L359.3 530 L359.9 529.5 L360.5 529 L361.2 528.5 L361.8 528 L362.4 527.5 L363.1 527 L363.7 526.6 L364.3 526.1 L365 525.6 L365.6 525.2 L366.3 524.7 L367 524.3 L367.6 523.9 L368.3 523.4 L369 523 L369.7 522.6 L370.3 522.2 L371 521.8 L371.7 521.4 L372.4 521 L373.1 520.7 L373.8 520.3 L374.5 519.9 L375.2 519.6 L376 519.2 L376.7 518.9 L377.4 518.6 L378.1 518.2 L378.8 517.9 L379.6 517.6 L380.3 517.3 L381 517" fill="none" stroke="#8c8c8c" stroke-width="3" stroke-linecap="round"/>
<path d="M358.5 537.2 L358.7 536.9 L359 536.7 L359.3 536.4 L359.5 536.2 L359.8 535.9 L360.1 535.7 L360.4 535.4 L360.6 535.2 L360.9 534.9 L361.2 534.7 L361.5 534.4 L361.7 534.2 L362 533.9 L362.3 533.7 L362.6 533.5 L362.9 533.2 L363.1 533 L363.4 532.8 L363.7 532.5 L364 532.3 L364.3 532.1 L364.6 531.9 L364.9 531.6 L365.1 531.4 L365.4 531.2 L365.7 531 L366 530.8 L366.3 530.5 L366.6 530.3 L366.9 530.1 L367.2 529.9 L367.5 529.7 L367.8 529.5 L368.1 529.3 L368.4 529.1 L368.7 528.9 L369 528.7 L369.3 528.4 L369.6 528.2" fill="none" stroke="#8c8c8c" stroke-width="3" stroke-linecap="round"/>
<path d="M332.8 522.2 L354.4 533" stroke="#fff" stroke-width="1.6"/>
<path d="M453 608.5 L453 610.5 L453 612.6 L452.8 614.7 L452.6 616.7 L452.3 618.7 L451.9 620.7 L451.5 622.7 L450.9 624.7 L450.3 626.6 L449.6 628.4 L448.9 630.3 L448 632.1 L447.1 633.8 L446.2 635.5 L445.1 637.1 L444 638.7 L442.8 640.2 L441.6 641.7 L440.3 643.1 L438.9 644.4 L437.5 645.6 L436.1 646.8 L434.5 647.9 L433 648.9 L431.4 649.8 L429.7 650.7 L428.1 651.5 L426.3 652.2 L424.6 652.8 L422.8 653.3 L421 653.7 L419.2 654 L417.4 654.3 L415.5 654.4 L413.7 654.5 L411.8 654.5 L409.9 654.4 L408.1 654.1 L406.2 653.8 L404.4 653.5 L402.5 653 L400.7 652.4 L398.9 651.8 L397.1 651 L395.3 650.2 L393.6 649.3 L391.9 648.3 L390.2 647.3 L388.6 646.1 L387 644.9 L385.4 643.6 L383.9 642.3 L382.5 640.8 L381.1 639.3 L379.8 637.8 L378.5 636.2 L377.2 634.5 L376.1 632.8 L375 631 L374 629.2 L373 627.3 L372.1 625.4 L371.3 623.5 L370.6 621.6 L369.9 619.6 L369.3 617.5 L368.8 615.5 L368.4 613.4 L368 611.4 L367.7 609.3 L367.5 607.2 L367.4 605.1 L367.4 603.1 L367.4 601 L367.6 598.9 L367.8 596.9 L368.1 594.9 L368.5 592.9 L368.9 590.9 L369.5 588.9 L370.1 587 L370.8 585.2 L371.5 583.3 L372.4 581.5 L373.3 579.8 L374.2 578.1 L375.3 576.5 L376.4 574.9 L377.6 573.4 L378.8 571.9 L380.1 570.5 L381.5 569.2 L382.9 568 L384.3 566.8 L385.9 565.7 L387.4 564.7 L389 563.8 L390.7 562.9 L392.3 562.1 L394.1 561.4 L395.8 560.8 L397.6 560.3 L399.4 559.9 L401.2 559.6 L403 559.3 L404.9 559.2 L406.7 559.1 L408.6 559.1 L410.5 559.2 L412.3 559.5 L414.2 559.8 L416 560.1 L417.9 560.6 L419.7 561.2 L421.5 561.8 L423.3 562.6 L425.1 563.4 L426.8 564.3 L428.5 565.3 L430.2 566.3 L431.8 567.5 L433.4 568.7 L435 570 L436.5 571.3 L437.9 572.8 L439.3 574.3 L440.6 575.8 L441.9 577.4 L443.2 579.1 L444.3 580.8 L445.4 582.6 L446.4 584.4 L447.4 586.3 L448.3 588.2 L449.1 590.1 L449.8 592 L450.5 594 L451.1 596.1 L451.6 598.1 L452 600.2 L452.4 602.2 L452.7 604.3 L452.9 606.4 Z" fill="#fbfbfb" stroke="#8a8a8a" stroke-width="1.2"/>
<path d="M447.1 608.2 L447.1 610.1 L447.1 611.9 L447 613.7 L446.8 615.4 L446.5 617.2 L446.2 619 L445.8 620.7 L445.4 622.4 L444.8 624 L444.2 625.7 L443.6 627.3 L442.9 628.8 L442.1 630.4 L441.2 631.8 L440.3 633.3 L439.4 634.6 L438.4 636 L437.3 637.2 L436.2 638.4 L435 639.6 L433.8 640.7 L432.5 641.7 L431.2 642.6 L429.9 643.5 L428.5 644.3 L427.1 645.1 L425.6 645.8 L424.1 646.4 L422.6 646.9 L421.1 647.3 L419.5 647.7 L418 648 L416.4 648.2 L414.8 648.3 L413.2 648.4 L411.6 648.4 L410 648.3 L408.4 648.1 L406.8 647.8 L405.2 647.5 L403.6 647.1 L402 646.6 L400.4 646 L398.9 645.4 L397.4 644.7 L395.9 643.9 L394.4 643 L392.9 642.1 L391.5 641.1 L390.2 640 L388.8 638.9 L387.5 637.7 L386.3 636.5 L385.1 635.2 L383.9 633.8 L382.8 632.4 L381.8 631 L380.8 629.5 L379.8 627.9 L378.9 626.3 L378.1 624.7 L377.3 623.1 L376.6 621.4 L376 619.7 L375.4 617.9 L374.9 616.2 L374.5 614.4 L374.1 612.6 L373.8 610.8 L373.5 609 L373.4 607.2 L373.3 605.4 L373.3 603.5 L373.3 601.7 L373.4 599.9 L373.6 598.2 L373.9 596.4 L374.2 594.6 L374.6 592.9 L375 591.2 L375.6 589.6 L376.2 587.9 L376.8 586.3 L377.5 584.8 L378.3 583.2 L379.2 581.8 L380.1 580.3 L381 579 L382 577.6 L383.1 576.4 L384.2 575.2 L385.4 574 L386.6 572.9 L387.9 571.9 L389.2 571 L390.5 570.1 L391.9 569.3 L393.3 568.5 L394.8 567.8 L396.3 567.2 L397.8 566.7 L399.3 566.3 L400.9 565.9 L402.4 565.6 L404 565.4 L405.6 565.3 L407.2 565.2 L408.8 565.2 L410.4 565.3 L412 565.5 L413.6 565.8 L415.2 566.1 L416.8 566.5 L418.4 567 L420 567.6 L421.5 568.2 L423 568.9 L424.5 569.7 L426 570.6 L427.5 571.5 L428.9 572.5 L430.2 573.6 L431.6 574.7 L432.9 575.9 L434.1 577.1 L435.3 578.4 L436.5 579.8 L437.6 581.2 L438.6 582.6 L439.6 584.1 L440.6 585.7 L441.5 587.3 L442.3 588.9 L443.1 590.5 L443.8 592.2 L444.4 593.9 L445 595.7 L445.5 597.4 L445.9 599.2 L446.3 601 L446.6 602.8 L446.9 604.6 L447 606.4 Z" fill="#777"/>
<path d="M447.9 608.7 L448 610.5 L447.9 612.2 L447.8 614 L447.6 615.7 L447.4 617.5 L447.1 619.2 L446.7 620.8 L446.2 622.5 L445.7 624.1 L445.1 625.7 L444.5 627.3 L443.8 628.8 L443 630.3 L442.2 631.7 L441.3 633.1 L440.4 634.5 L439.4 635.8 L438.3 637 L437.2 638.2 L436.1 639.3 L434.9 640.3 L433.7 641.3 L432.4 642.3 L431.1 643.1 L429.7 643.9 L428.4 644.7 L426.9 645.3 L425.5 645.9 L424 646.4 L422.5 646.9 L421 647.2 L419.5 647.5 L417.9 647.7 L416.4 647.8 L414.8 647.9 L413.3 647.9 L411.7 647.8 L410.1 647.6 L408.5 647.3 L407 647 L405.4 646.6 L403.9 646.1 L402.4 645.6 L400.9 644.9 L399.4 644.2 L397.9 643.5 L396.5 642.6 L395.1 641.7 L393.7 640.8 L392.3 639.7 L391 638.6 L389.8 637.5 L388.6 636.3 L387.4 635 L386.3 633.7 L385.2 632.3 L384.1 630.9 L383.2 629.4 L382.2 627.9 L381.4 626.4 L380.6 624.8 L379.8 623.2 L379.1 621.5 L378.5 619.9 L377.9 618.2 L377.4 616.4 L377 614.7 L376.7 613 L376.4 611.2 L376.1 609.4 L376 607.7 L375.9 605.9 L375.8 604.1 L375.9 602.4 L376 600.6 L376.2 598.9 L376.4 597.1 L376.7 595.4 L377.1 593.8 L377.6 592.1 L378.1 590.5 L378.7 588.9 L379.3 587.3 L380 585.8 L380.8 584.3 L381.6 582.9 L382.5 581.5 L383.4 580.1 L384.4 578.8 L385.5 577.6 L386.6 576.4 L387.7 575.3 L388.9 574.3 L390.1 573.3 L391.4 572.3 L392.7 571.5 L394.1 570.7 L395.4 569.9 L396.9 569.3 L398.3 568.7 L399.8 568.2 L401.3 567.7 L402.8 567.4 L404.3 567.1 L405.9 566.9 L407.4 566.8 L409 566.7 L410.5 566.7 L412.1 566.8 L413.7 567 L415.3 567.3 L416.8 567.6 L418.4 568 L419.9 568.5 L421.4 569 L422.9 569.7 L424.4 570.4 L425.9 571.1 L427.3 572 L428.7 572.9 L430.1 573.8 L431.5 574.9 L432.8 576 L434 577.1 L435.2 578.3 L436.4 579.6 L437.5 580.9 L438.6 582.3 L439.7 583.7 L440.6 585.2 L441.6 586.7 L442.4 588.2 L443.2 589.8 L444 591.4 L444.7 593.1 L445.3 594.7 L445.9 596.4 L446.4 598.2 L446.8 599.9 L447.1 601.6 L447.4 603.4 L447.7 605.2 L447.8 606.9 Z" fill="#4b4849"/>
<path d="M316.6 547.4 L375 588 L431.8 576.2 M421.9 567.2 L457.9 499.7 M354.4 698.6 L388.6 639.2 L444.4 621.2 M443.5 627.5 L510 664.6" stroke="#000" stroke-width="3.2" fill="none"/>
<g transform="translate(359.8 576.2) rotate(-55.2)"><rect x="-4.0" y="-6.5" width="8" height="13" fill="#dcdcdc" stroke="#3a3a3a" stroke-width="2"/><line x1="0" y1="-6.5" x2="0" y2="6.5" stroke="#3a3a3a" stroke-width="1.5"/></g>
<g transform="translate(430.9 551) rotate(28.1)"><rect x="-4.0" y="-6.5" width="8" height="13" fill="#dcdcdc" stroke="#3a3a3a" stroke-width="2"/><line x1="0" y1="-6.5" x2="0" y2="6.5" stroke="#3a3a3a" stroke-width="1.5"/></g>
<g transform="translate(377.8 658) rotate(30.0)"><rect x="-4.0" y="-6.5" width="8" height="13" fill="#dcdcdc" stroke="#3a3a3a" stroke-width="2"/><line x1="0" y1="-6.5" x2="0" y2="6.5" stroke="#3a3a3a" stroke-width="1.5"/></g>
<g transform="translate(461.5 637.4) rotate(-60.8)"><rect x="-4.0" y="-6.5" width="8" height="13" fill="#dcdcdc" stroke="#3a3a3a" stroke-width="2"/><line x1="0" y1="-6.5" x2="0" y2="6.5" stroke="#3a3a3a" stroke-width="1.5"/></g>
<path d="M648.5 886.6 L657.5 882.6 L657.5 896.6 L648.5 903.6 Z" fill="#dedede" />
<path d="M446.4 976.3 L462.4 969.2 L462.4 988.8 L449.4 980.8 Z" fill="#6e6e6e" />
<path d="M462.4 969.2 L489 957.4 L489 976.8 L462.4 988.8 Z" fill="#dedede" />
<path d="M517.6 944.7 L532 938.3 L532 955.2 L520.6 947.2 Z" fill="#6e6e6e" />
<path d="M532 938.3 L545 932.5 L545 949.4 L532 955.2 Z" fill="#dedede" />
<path d="M574.4 919.5 L587.2 913.8 L587.2 928.8 L577.4 920.8 Z" fill="#6e6e6e" />
<path d="M587.2 913.8 L600.8 907.8 L600.8 922.7 L587.2 928.8 Z" fill="#dedede" />
<path d="M624.8 897.1 L636.8 891.8 L636.8 904.8 L627.8 896.8 Z" fill="#6e6e6e" />
<path d="M636.8 891.8 L646.4 887.5 L646.4 900.5 L636.8 904.8 Z" fill="#dedede" />
<path d="M293.2 864.7 L434.4 934.4 L434.4 981.6 L293.2 905.4 Z" fill="#cbcbcb" />
<path d="M434.4 934.4 L674.2 837.7 L674.2 875.2 L434.4 981.6 Z" fill="#d3d3d3" />
<path d="M293.2 864.7 L535.6 792.6 L674.2 837.7 L434.4 934.4 Z" fill="#a7a7a7" />
<path d="M327.3 864.7 L535.6 801 L641.7 837.7 L438.4 917.5 Z" fill="#7b7b7b" />
<path d="M337 852 L477 917.2 L477 983" stroke="#000" stroke-width="3.0" fill="none"/>
<path d="M412 830 L546.7 889.1 L546.7 949.6" stroke="#000" stroke-width="3.0" fill="none"/>
<path d="M466.9 813.4 L601.3 866.4 L601.3 923.2" stroke="#000" stroke-width="3.0" fill="none"/>
<path d="M508.9 800.7 L648 847.2 L648 900" stroke="#000" stroke-width="3.0" fill="none"/>
<path d="M573.4 804.9 L332.6 885.2 L332.6 926.9" stroke="#000" stroke-width="3.0" fill="none"/>
<path d="M620.7 820.3 L378 907 L378 951.3" stroke="#000" stroke-width="3.0" fill="none"/>
<line x1="607.5" y1="222.5" x2="738" y2="222.5" class="ln"/>
<line x1="619" y1="254" x2="740" y2="254" class="ln"/>
<line x1="239.8" y1="492.3" x2="394" y2="492.3" class="ln"/>
<line x1="290.8" y1="492.3" x2="290.8" y2="563.7" class="ln"/>
<line x1="290.8" y1="563.7" x2="394" y2="563.7" class="ln"/>
<line x1="551.5" y1="482" x2="740" y2="482" class="ln"/>
<line x1="380.5" y1="514" x2="740" y2="514" class="ln"/>
<line x1="358" y1="535.5" x2="740" y2="535.5" class="ln"/>
<line x1="239.8" y1="615.7" x2="356" y2="615.7" class="ln"/>
<line x1="239.8" y1="662.3" x2="375" y2="662.3" class="ln"/>
<line x1="586" y1="646.3" x2="740" y2="646.3" class="ln"/>
<line x1="544" y1="830" x2="740.5" y2="830" class="ln"/>
<line x1="607.5" y1="912.5" x2="740.5" y2="912.5" class="ln"/>
<line x1="239" y1="868.6" x2="313.5" y2="868.6" class="ln"/>
<circle cx="607.5" cy="222.5" r="3.8" class="dot"/>
<circle cx="619" cy="254" r="3.8" class="dot"/>
<circle cx="394" cy="491.6" r="3.8" class="dot"/>
<circle cx="380.5" cy="513" r="3.8" class="dot"/>
<circle cx="358" cy="535.7" r="3.8" class="dot"/>
<circle cx="394" cy="564.5" r="3.8" class="dot"/>
<circle cx="356" cy="615.7" r="3.8" class="dot"/>
<circle cx="374.5" cy="662" r="3.8" class="dot"/>
<circle cx="551.5" cy="482.4" r="3.8" class="dot"/>
<circle cx="586" cy="646.3" r="3.8" class="dot"/>
<circle cx="544" cy="830" r="3.8" class="dot"/>
<circle cx="607.5" cy="912.5" r="3.8" class="dot"/>
<circle cx="313.5" cy="868.6" r="3.8" class="dot"/>
<g id="title">
<text x="150.5" y="60.8" font-size="50" fill="#154ea0" stroke="#154ea0" stroke-width="0.8" textLength="700.5" lengthAdjust="spacingAndGlyphs">STEEL PACKAGING METHOD</text>
<path d="M477 77 L500 87 L522.5 77 L522.5 82 L500 92 L477 82 Z M477 85 L500 95 L522.5 85 L522.5 90 L500 100 L477 90 Z" fill="#154ea0"/>
</g>
<g id="heads">
<rect x="17" y="145" width="4" height="64" fill="#bdbdbd"/>
<text class="hd" x="34" y="167.5">Naked Packing</text>
<text class="sub" x="34" y="208.5">Custom Packaging</text>
<rect x="17" y="391" width="4" height="64" fill="#bdbdbd"/>
<text class="hd" x="34" y="413.5">Metal Packaging</text>
<text class="sub" x="36" y="454.5">Custom Packaging</text>
<rect x="17" y="748" width="4" height="64" fill="#bdbdbd"/>
<text class="hd" x="34" y="770">Plank Packing</text>
<text class="sub" x="36" y="811.5">Custom Packaging</text>
</g>
<g id="labels">
<text class="lbl" transform="translate(748 235.5) scale(1 1.02)">Band</text>
<text class="lbl" transform="translate(748 265.5) scale(1 1.02)">Buckle</text>
<text class="lbl" transform="translate(94 496) scale(1 1.02)">Metal Ring</text>
<text class="lbl" transform="translate(84 624) scale(1 1.02)">Steel Plate</text>
<text class="lbl" transform="translate(140 668) scale(1 1.02)">Buckle</text>
<text class="lbl" transform="translate(747.3 496) scale(1 1.02)">Band</text>
<text class="lbl" transform="translate(749 523.5) scale(1 1.02)">Waterproof Paper</text>
<text class="lbl" transform="translate(749 550) scale(1 1.02)">Rustproof Paper</text>
<text class="lbl" transform="translate(749 651) scale(1 1.02)">Steel Plate</text>
<text class="lbl" transform="translate(749 840.5) scale(1 1.02)">Waterproof Paper</text>
<text class="lbl" transform="translate(749 919.5) scale(1 1.02)">Skid</text>
<text class="lbl" transform="translate(87 876.5) scale(1 1.02)">Steel Plate</text>
</g>
</svg>
</body></html>
